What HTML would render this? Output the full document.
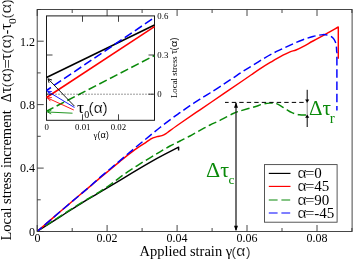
<!DOCTYPE html>
<html><head><meta charset="utf-8">
<style>
html,body{margin:0;padding:0;background:#fff;}
svg{display:block}
text{font-family:"Liberation Serif",serif;fill:#000}
.sans{font-family:"Liberation Sans",sans-serif;stroke:#fff;stroke-width:0.2px}
.sn{font-family:"Liberation Sans",sans-serif}
.serif{font-family:"Liberation Serif",serif}
.g{fill:#0a8a0a}
</style></head><body>
<svg width="353" height="260" viewBox="0 0 353 260" style="will-change:transform">
<rect width="353" height="260" fill="#fff"/>

<!-- main curves -->
<g fill="none" stroke-width="1.45" stroke-linejoin="round">
<!-- black -->
<path stroke="#000" d="M37.4,231.2 C41.2,228.8 52.2,221.8 60.0,216.9 C67.8,212.0 77.3,205.7 84.0,201.6 C90.7,197.5 93.3,196.2 100.0,192.2 C106.7,188.2 115.7,182.8 124.0,177.8 C132.3,172.8 143.2,166.3 150.0,162.4 C156.8,158.5 160.2,156.7 165.0,154.2 C169.8,151.7 176.3,148.4 178.6,147.2 L178.6,150.5"/>
<!-- green dashed -->
<path stroke="#0a8a0a" stroke-dasharray="8.4,3.6" stroke-dashoffset="2.6" d="M37.4,231.0 C41.2,228.6 52.2,221.4 60.0,216.4 C67.8,211.4 77.3,205.2 84.0,201.1 C90.7,197.0 95.3,194.5 100.0,191.6 C104.7,188.7 108.0,186.3 112.0,183.4 C116.0,180.5 119.8,177.3 124.0,174.4 C128.2,171.5 132.7,168.6 137.0,165.8 C141.3,163.0 146.2,160.1 150.0,157.8 C153.8,155.5 156.7,153.8 160.0,151.8 C163.3,149.8 166.7,147.8 170.0,146.0 C173.3,144.2 176.7,142.7 180.0,141.0 C183.3,139.3 186.7,137.8 190.0,136.0 C193.3,134.2 196.7,132.1 200.0,130.3 C203.3,128.5 206.7,126.7 210.0,125.0 C213.3,123.3 216.1,122.3 220.0,120.4 C223.9,118.5 229.9,115.1 233.2,113.5 C236.5,111.9 236.4,112.1 240.0,111.0 C243.6,109.9 251.1,107.9 254.9,106.7 C258.7,105.5 260.5,104.7 263.0,104.1 C265.5,103.5 267.6,103.2 269.8,103.1 C272.1,103.0 274.0,102.7 276.5,103.6 C279.0,104.5 282.0,106.8 284.6,108.3 C287.2,109.8 289.5,111.6 292.0,112.7 C294.5,113.8 297.2,114.4 299.5,114.8 C301.8,115.2 304.9,115.0 306.0,115.1"/>
<!-- red -->
<path stroke="#f00" d="M37.4,231.2 C41.2,228.0 52.9,217.9 60.0,211.8 C67.1,205.7 74.8,199.2 80.0,194.8 C85.2,190.4 88.0,188.2 91.3,185.4 C94.6,182.6 96.9,180.5 100.0,177.9 C103.1,175.3 106.7,172.4 110.0,169.7 C113.3,166.9 116.7,164.1 120.0,161.4 C123.3,158.7 126.7,155.9 130.0,153.4 C133.3,150.9 137.3,148.0 140.0,146.2 C142.7,144.3 144.3,143.4 146.0,142.3 C147.7,141.2 148.8,140.3 150.0,139.6 C151.2,138.9 151.8,138.4 153.0,137.9 C154.2,137.4 155.5,137.0 157.0,136.6 C158.5,136.2 160.5,136.1 162.0,135.6 C163.5,135.1 164.7,134.4 166.0,133.6 C167.3,132.8 167.7,132.3 170.0,130.6 C172.3,128.9 175.0,127.0 180.0,123.5 C185.0,120.0 192.8,114.7 200.0,109.8 C207.2,104.9 215.8,99.1 223.0,94.2 C230.2,89.3 238.0,83.9 243.0,80.5 C248.0,77.1 249.7,75.9 253.0,73.6 C256.3,71.3 259.7,69.0 263.0,66.9 C266.3,64.8 269.7,62.8 273.0,60.8 C276.3,58.8 280.2,56.7 283.0,55.2 C285.8,53.7 287.8,52.7 290.0,51.8 C292.2,50.9 293.8,50.9 296.0,50.0 C298.2,49.1 300.2,48.1 303.0,46.6 C305.8,45.1 309.7,42.8 313.0,41.0 C316.3,39.2 318.8,37.9 323.0,35.6 C327.2,33.3 335.8,28.4 338.3,27.0 L338.3,58.8"/>
<!-- blue vertical -->
<path stroke="#00f" stroke-dasharray="8.6,3.7" stroke-dashoffset="7.45" d="M336.9,52 V110.5"/>
<!-- blue dashed -->
<path stroke="#00f" stroke-dasharray="8.4,3.6" stroke-dashoffset="2.4" d="M37.4,231.2 C41.2,228.0 52.9,217.9 60.0,211.8 C67.1,205.7 74.8,199.2 80.0,194.8 C85.2,190.4 88.0,188.1 91.3,185.2 C94.6,182.3 96.9,180.1 100.0,177.4 C103.1,174.7 106.7,171.8 110.0,169.0 C113.3,166.2 116.7,163.4 120.0,160.6 C123.3,157.8 126.7,154.8 130.0,152.0 C133.3,149.2 136.7,146.5 140.0,143.8 C143.3,141.1 146.7,138.3 150.0,135.6 C153.3,132.9 156.7,130.1 160.0,127.5 C163.3,124.9 166.7,122.3 170.0,119.8 C173.3,117.3 176.7,115.0 180.0,112.7 C183.3,110.4 186.7,108.0 190.0,105.7 C193.3,103.5 196.7,101.3 200.0,99.2 C203.3,97.1 206.2,95.4 210.0,93.0 C213.8,90.6 219.2,87.2 223.0,84.7 C226.8,82.2 229.7,80.2 233.0,78.0 C236.3,75.8 239.7,73.4 243.0,71.3 C246.3,69.2 249.7,67.2 253.0,65.2 C256.3,63.2 259.7,61.0 263.0,59.0 C266.3,57.0 269.7,55.0 273.0,53.3 C276.3,51.5 279.7,50.1 283.0,48.5 C286.3,46.9 289.7,45.3 293.0,43.8 C296.3,42.3 299.7,40.9 303.0,39.7 C306.3,38.5 309.7,37.4 313.0,36.5 C316.3,35.6 320.3,34.8 323.0,34.6 C325.7,34.5 327.3,35.0 329.0,35.6 C330.7,36.2 331.9,36.9 333.0,38.0 C334.1,39.1 334.8,40.5 335.4,42.0 C336.0,43.5 336.2,45.3 336.4,47.0 C336.6,48.7 336.6,51.2 336.7,52.0"/>
</g>

<!-- main frame -->
<g stroke="#333" stroke-width="0.9" fill="none">
<rect x="37.2" y="9.5" width="314.9" height="222.0"/>
</g>
<path stroke="#333" stroke-width="0.9" fill="none" d="M37.2,231.5 L37.2,225.0 M37.2,9.5 L37.2,16.0 M72.2,231.5 L72.2,228.0 M72.2,9.5 L72.2,13.0 M107.1,231.5 L107.1,225.0 M107.1,9.5 L107.1,16.0 M142.1,231.5 L142.1,228.0 M142.1,9.5 L142.1,13.0 M177.1,231.5 L177.1,225.0 M177.1,9.5 L177.1,16.0 M212.1,231.5 L212.1,228.0 M212.1,9.5 L212.1,13.0 M247.0,231.5 L247.0,225.0 M247.0,9.5 L247.0,16.0 M282.0,231.5 L282.0,228.0 M282.0,9.5 L282.0,13.0 M317.0,231.5 L317.0,225.0 M317.0,9.5 L317.0,16.0 M351.9,231.5 L351.9,228.0 M351.9,9.5 L351.9,13.0 M37.2,231.5 L43.7,231.5 M37.2,199.8 L40.7,199.8 M37.2,168.1 L43.7,168.1 M37.2,136.3 L40.7,136.3 M37.2,104.6 L43.7,104.6 M37.2,72.9 L40.7,72.9 M37.2,41.2 L43.7,41.2 M37.2,9.5 L40.7,9.5"/>

<!-- inset -->
<rect x="46.5" y="15.9" width="108" height="104.4" fill="#fff" stroke="#1a1a1a" stroke-width="1"/>
<g fill="none" stroke-width="1.55">
<path stroke="#000" d="M46.5,77.5 L154.5,25"/>
<path stroke="#f00" d="M46.5,97.5 L154.5,26.6"/>
<path stroke="#00f" stroke-dasharray="8.5,3.7" stroke-dashoffset="3.15" d="M46.5,90.5 L154.5,17.5"/>
<path stroke="#0a8a0a" stroke-dasharray="8.4,3.6" stroke-dashoffset="0.6" d="M46.5,111.25 L154.5,55.5"/>
</g>
<path stroke="#222" stroke-width="0.85" fill="none" d="M82.5,120.3 L82.5,114.3 M82.5,15.8 L82.5,21.8 M118.5,120.3 L118.5,114.3 M118.5,15.8 L118.5,21.8 M46.5,94.2 L52.5,94.2 M154.5,94.2 L148.5,94.2 M46.5,55.0 L52.5,55.0 M154.5,55.0 L148.5,55.0"/>
<path stroke="#000" stroke-width="0.8" stroke-dasharray="1,2" d="M46.5,94.2 H154.5" fill="none"/>

<!-- main tick labels -->
<g font-size="12" text-anchor="middle">
<text x="37.4" y="242.4">0</text>
<text x="107.1" y="242.4">0.02</text>
<text x="177.1" y="242.4">0.04</text>
<text x="247.0" y="242.4">0.06</text>
<text x="317.0" y="242.4">0.08</text>
</g>
<g font-size="12" text-anchor="end">
<text x="34.9" y="235.9">0</text>
<text x="34.9" y="172.4">0.4</text>
<text x="34.9" y="109.0">0.8</text>
<text x="34.9" y="45.5">1.2</text>
</g>

<!-- axis labels -->
<text x="139.6" y="255.7" font-size="14.5">Applied strain γ</text>
<text class="sans" x="231.4" y="255.7" font-size="13.6">(</text>
<text class="sans" transform="translate(236.2,255.7) scale(1.05,1)" font-size="15">α</text>
<text class="sans" x="246.1" y="255.7" font-size="13.6">)</text>
<g id="ylabel">
<text transform="translate(10.80,240.6) rotate(-90)" font-size="14.5">Local stress increment</text>
<text transform="translate(10.80,102.14) rotate(-90) scale(0.973,1)" font-size="14.5">Δ</text>
<text transform="translate(10.80,93.35) rotate(-90) scale(0.995,1)" font-size="16">τ</text>
<text class="sans" transform="translate(10.80,87.37) rotate(-90) scale(1.050,1)" font-size="13.3">(</text>
<text class="sans" transform="translate(10.80,82.29) rotate(-90) scale(1.091,1)" font-size="15">α</text>
<text class="sans" transform="translate(10.80,72.69) rotate(-90) scale(1.078,1)" font-size="13.3">)</text>
<text transform="translate(11.55,68.43) rotate(-90) scale(1.142,1)" font-size="14.5">=</text>
<text transform="translate(10.80,59.96) rotate(-90) scale(1.013,1)" font-size="16">τ</text>
<text class="sans" transform="translate(10.80,53.64) rotate(-90) scale(1.135,1)" font-size="13.3">(</text>
<text class="sans" transform="translate(10.80,48.40) rotate(-90) scale(1.118,1)" font-size="15">α</text>
<text class="sans" transform="translate(10.80,38.89) rotate(-90) scale(1.078,1)" font-size="13.3">)</text>
<text transform="translate(10.50,34.30) rotate(-90) scale(0.928,1)" font-size="14.5">-</text>
<text transform="translate(10.80,29.64) rotate(-90) scale(0.978,1)" font-size="16">τ</text>
<text transform="translate(16.30,23.94) rotate(-90) scale(1.051,1)" font-size="11">0</text>
<text class="sans" transform="translate(10.80,18.61) rotate(-90) scale(1.107,1)" font-size="13.3">(</text>
<text class="sans" transform="translate(10.80,13.40) rotate(-90) scale(1.118,1)" font-size="15">α</text>
<text class="sans" transform="translate(10.80,3.99) rotate(-90) scale(1.078,1)" font-size="13.3">)</text>
</g>

<!-- inset labels -->
<g font-size="8.8" text-anchor="middle">
<text x="46.7" y="129.9">0</text>
<text x="82.8" y="129.9">0.01</text>
<text x="118.4" y="129.9">0.02</text>
</g>
<g font-size="8.8">
<text x="157.3" y="19">0.6</text>
<text x="157.3" y="58.2">0.3</text>
<text x="157.3" y="97.2">0</text>
</g>
<text x="93.6" y="138.4" font-size="9">γ<tspan class="sn" font-size="8.4">(</tspan><tspan class="sn" font-size="9.2">α</tspan><tspan class="sn" font-size="8.4" dx="0.3">)</tspan></text>
<text transform="translate(177.3,98) rotate(-90)" font-size="8.8">Local stress <tspan font-size="9.6">τ</tspan></text>
<text class="sn" transform="translate(177.3,50.2) rotate(-90)" font-size="8.4">(</text>
<text class="sn" transform="translate(177.3,47.05) rotate(-90) scale(1.14,1)" font-size="9.5">α</text>
<text class="sn" transform="translate(177.3,40.55) rotate(-90)" font-size="8.4">)</text>

<!-- inset tau label -->
<text x="77" y="113" font-size="17.5">τ<tspan font-size="10" dy="5.2" x="84.2">0</tspan><tspan class="sans" font-size="15.5" dy="-5.2" x="88.5">(α)</tspan></text>

<!-- legend -->
<rect x="264.5" y="164.6" width="72.6" height="57.6" fill="#fff" stroke="#444" stroke-width="0.9"/>
<g stroke-width="1.15" fill="none">
<path stroke="#000" d="M268.8,173.4 H290.5"/>
<path stroke="#f00" d="M268.8,186.4 H290.5"/>
<path stroke="#0a8a0a" stroke-dasharray="8.8,3.8" d="M268.8,200 H290.5"/>
<path stroke="#00f" stroke-dasharray="8.8,3.8" d="M268.8,213 H290.5"/>
</g>
<g font-size="15">
<text class="sans" transform="translate(297.4,178.4) scale(1.13,1)" font-size="14">α</text><text transform="translate(305.3,178.4) scale(1.08,1)">=</text><text x="314.3" y="178.4">0</text>
<text class="sans" transform="translate(297.4,191.4) scale(1.13,1)" font-size="14">α</text><text transform="translate(305.3,191.4) scale(1.08,1)">=</text><text x="314.3" y="191.4">45</text>
<text class="sans" transform="translate(297.4,204.6) scale(1.13,1)" font-size="14">α</text><text transform="translate(305.3,204.6) scale(1.08,1)">=</text><text x="314.3" y="204.6">90</text>
<text class="sans" transform="translate(297.4,218.0) scale(1.13,1)" font-size="14">α</text><text transform="translate(305.3,218.0) scale(1.08,1)">=</text><text x="314.3" y="218.0">-45</text>
</g>

<!-- annotations -->
<path stroke="#000" stroke-width="1" stroke-dasharray="4.4,3.1" stroke-dashoffset="0.75" d="M225,102.4 H307" fill="none"/>
<path stroke="#111" stroke-width="1.2" d="M236,103 V230" fill="none"/>
<path d="M236,102.3 l-2,5.5 h4z M236,231.3 l-2,-5.5 h4z" fill="#000"/>
<path stroke="#000" stroke-width="1" d="M307.2,89.8 V100 M307.2,127 V117" fill="none"/>
<path stroke="#555" stroke-width="0.7" d="M307.2,100 V117" fill="none"/>
<path d="M307.2,102.8 l-2.1,-3.3 h4.2z M307.2,114.4 l-2.1,3.3 h4.2z" fill="#000"/>
<text class="g" x="206.1" y="176.5" font-size="22">Δτ<tspan font-size="13.5" dy="7.8" dx="-0.6">c</tspan></text>
<text class="g" x="308.9" y="115.2" font-size="21">Δτ<tspan font-size="15" dy="7.5" dx="-1.2">r</tspan></text>

<!-- inset arrows -->
<g fill="none" stroke-width="0.9">
<path stroke="#000" d="M74.5,106.2 L48,78.8 M48,78.8 l1,4 M48,78.8 l4,1.2"/>
<path stroke="#00f" d="M74.5,107.5 L47.6,91.3 M47.6,91.3 l2.2,3.6 M47.6,91.3 l4.2,0.2"/>
<path stroke="#f00" d="M73.8,110 L47.6,98 M47.6,98 l2.8,3.2 M47.6,98 l4.2,-0.5"/>
<path stroke="#0a8a0a" d="M72.5,113.2 L47.6,112 M47.6,112 l3.6,2 M47.6,112 l3.8,-1.8"/>
</g>
</svg>
</body></html>
